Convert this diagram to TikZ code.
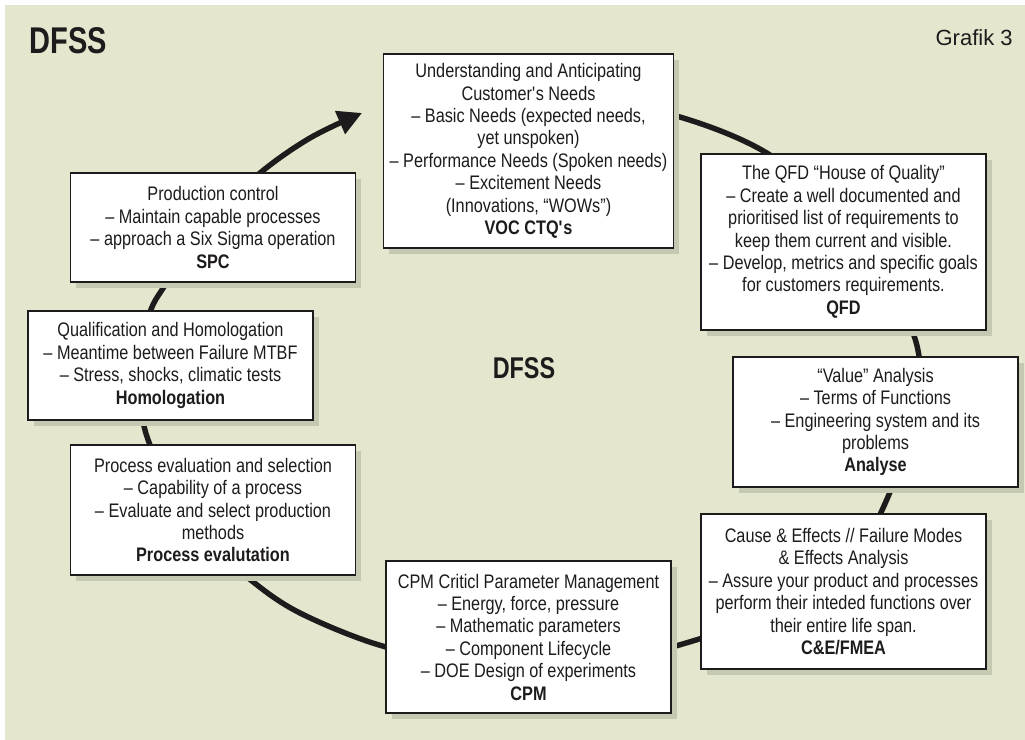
\documentclass[tikz,border=0pt]{standalone}
\usepackage{fontspec}
\setmainfont{Liberation Sans}
\newfontfamily\boxfont[Ligatures=TeX,FakeStretch=0.83]{Liberation Sans}
\newfontfamily\headfont[Ligatures=TeX,FakeStretch=0.78]{Liberation Sans}
\definecolor{bgbeige}{HTML}{E4E7CE}
\definecolor{shadowgray}{HTML}{C6C9B2}
\definecolor{inkgray}{HTML}{1E1B1C}
\usetikzlibrary{arrows.meta,shadows}

\begin{document}
\begin{tikzpicture}[x=0.5pt,y=-0.5pt,
  stepbox/.style={draw=inkgray, line width=0.6pt, fill=white, align=center,
    minimum width=142.5pt, inner sep=3pt, text=inkgray,
    font=\boxfont\fontsize{9.8}{11.2}\selectfont,
    drop shadow={shadow xshift=2.75pt, shadow yshift=-2.75pt,
      fill=shadowgray, opacity=1}},
  ring/.style={line width=2.7pt, line cap=round}]
  \useasboundingbox (0,0) rectangle (1025,740);
  % Background
  \fill[bgbeige] (5,5) rectangle (1025,740);
  \node[anchor=base west, inner sep=0, text=inkgray,
    font=\headfont\bfseries\fontsize{18.6}{20}\selectfont] (title) at (29,53) {DFSS};
  \node[anchor=base east, inner sep=0, text=inkgray,
    font=\fontsize{11}{13}\selectfont] (grafik) at (1013,45) {Grafik 3};
  % Cycle
  \foreach \n/\px/\py in {1/590/101, 2/680/117, 3/770/155, 4/850/225,
    5/912/330, 6/918/400, 7/893/485, 8/850/560, 9/760/615, 10/686/643,
    11/600/662, 12/480/662, 13/386/647, 14/300/613, 15/247/577,
    16/190/525, 17/150/445, 18/142/400, 19/148/320, 20/167/282,
    21/205/225, 22/260/173, 23/310/138, 24/362/113} {
    \coordinate (r\n) at (\px,\py);
  }
  \draw[ring, shadowgray, xshift=2pt, yshift=-2pt,
    -{Triangle[length=12pt,width=12pt]}]
    plot[smooth, tension=0.55] coordinates {(r1) (r2) (r3) (r4) (r5) (r6)
    (r7) (r8) (r9) (r10) (r11) (r12) (r13) (r14) (r15) (r16) (r17) (r18)
    (r19) (r20) (r21) (r22) (r23) (r24)};
  \draw[ring, inkgray, -{Triangle[length=12pt,width=12pt]}]
    plot[smooth, tension=0.55] coordinates {(r1) (r2) (r3) (r4) (r5) (r6)
    (r7) (r8) (r9) (r10) (r11) (r12) (r13) (r14) (r15) (r16) (r17) (r18)
    (r19) (r20) (r21) (r22) (r23) (r24)};
  % Boxes
  \node[stepbox, minimum height=97pt] (voc) at (528.5,151) {Understanding and Anticipating\\
    Customer\textquotesingle s Needs\\
    -- Basic Needs (expected needs,\\
    yet unspoken)\\
    -- Performance Needs (Spoken needs)\\
    -- Excitement Needs\\
    (Innovations, “WOWs”)\\
    \textbf{VOC CTQ\textquotesingle s}};
  \node[stepbox, minimum height=88pt] (qfd) at (843.5,242) {The QFD “House of Quality”\\
    -- Create a well documented and\\
    prioritised list of requirements to\\
    keep them current and visible.\\
    -- Develop, metrics and specific goals\\
    for customers requirements.\\
    \textbf{QFD}};
  \node[stepbox, minimum height=65pt] (analyse) at (875.5,422) {“Value” Analysis\\
    -- Terms of Functions\\
    -- Engineering system and its\\
    problems\\
    \textbf{Analyse}};
  \node[stepbox, minimum height=77.5pt] (fmea) at (843.5,591.5) {Cause \& Effects // Failure Modes\\
    \& Effects Analysis\\
    -- Assure your product and processes\\
    perform their inteded functions over\\
    their entire life span.\\
    \textbf{C\&E/FMEA}};
  \node[stepbox, minimum height=76pt] (cpm) at (528.5,637) {CPM Criticl Parameter Management\\
    -- Energy, force, pressure\\
    -- Mathematic parameters\\
    -- Component Lifecycle\\
    -- DOE Design of experiments\\
    \textbf{CPM}};
  \node[stepbox, minimum height=65pt] (process) at (213,510) {Process evaluation and selection\\
    -- Capability of a process\\
    -- Evaluate and select production\\
    methods\\
    \textbf{Process evalutation}};
  \node[stepbox, minimum height=54.5pt] (homol) at (170.5,365.5) {Qualification and Homologation\\
    -- Meantime between Failure MTBF\\
    -- Stress, shocks, climatic tests\\
    \textbf{Homologation}};
  \node[stepbox, minimum height=54.5pt] (spc) at (213,227.5) {Production control\\
    -- Maintain capable processes\\
    -- approach a Six Sigma operation\\
    \textbf{SPC}};
  % Centre label
  \node[anchor=base, inner sep=0, text=inkgray,
    font=\headfont\bfseries\fontsize{15}{16}\selectfont] (centre) at (524,378) {DFSS};
\end{tikzpicture}
\end{document}
